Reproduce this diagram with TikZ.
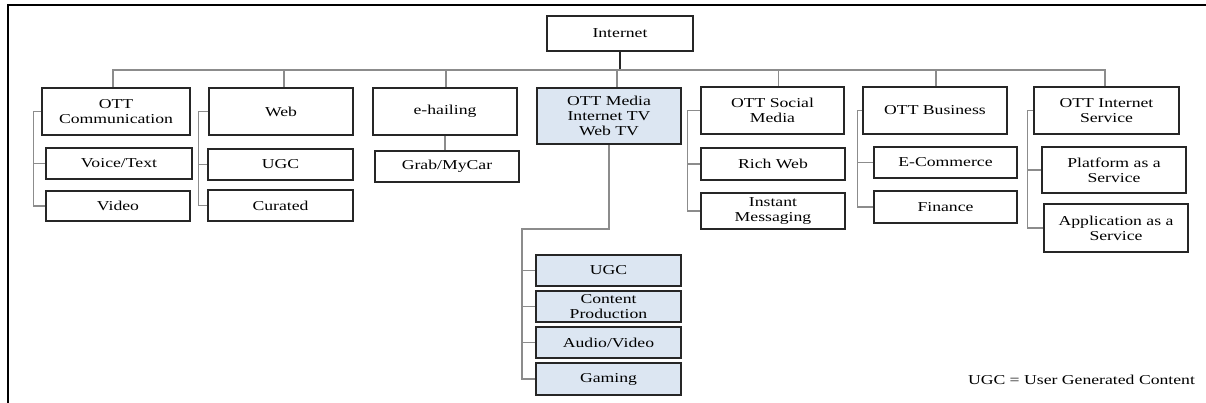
\documentclass[tikz,border=0pt]{standalone}
\usepackage{fontspec}
\setmainfont{Liberation Serif}[FakeStretch=1.3]
\usepackage{tikz}
\definecolor{mediablue}{HTML}{DCE6F2}
\definecolor{linkgray}{HTML}{8C8C8C}
\newcommand{\catfont}{\fontsize{10.2}{11.25}\selectfont}
\newcommand{\catnode}[6] {\node at (#1,#2) (#3) [catbox, minimum width=#4*0.75pt, minimum height=#5*0.75pt] {#6};}
\newcommand{\medianode}[6] {\node at (#1,#2) (#3) [catbox, fill=mediablue, minimum width=#4*0.75pt, minimum height=#5*0.75pt] {#6};}
\newcommand{\catbracket}[3] {\draw [link] (#1.west) -- ++(-#2,0) coordinate (#1rail) |- (#3.west);}

\begin{document}
\begin{tikzpicture}[x=0.75pt, y=-0.75pt,
  catbox/.style={draw=black!85, line width=1.2pt, align=center, font=\catfont, inner sep=1pt},
  link/.style={draw=linkgray, line width=0.8pt}]

\useasboundingbox (0,0) rectangle (1206,403);
\draw [line width=1.5pt] (8,403) -- (8,5) -- (1206,5);

\catnode {620}{33.5}{internet}{146}{35}{Internet};

\catnode {116}{111.5}{comm}{148}{47}{OTT\\Communication};
\catnode {119}{163.5}{voice}{146}{31}{Voice/Text};
\catnode {118}{206}{video}{144}{30}{Video};

\catnode {281}{111.5}{web}{144}{47}{Web};
\catnode {280.5}{164.5}{ugcweb}{145}{31}{UGC};
\catnode {280.5}{205.5}{curated}{145}{31}{Curated};

\catnode {445}{111.5}{ehail}{144}{47}{e-hailing};
\catnode {447}{166.5}{grab}{144}{31}{Grab/MyCar};

\medianode {609}{116}{media}{144}{56}{OTT Media\\Internet TV\\Web TV};
\medianode {608.5}{270.5}{ugcmedia}{145}{31}{UGC};
\medianode {608.5}{306.5}{content}{145}{31}{Content\\Production};
\medianode {608.5}{342.5}{audio}{145}{31}{Audio/Video};
\medianode {608.5}{379}{gaming}{145}{32}{Gaming};

\catnode {772.5}{110.5}{social}{143}{47}{OTT Social\\Media};
\catnode {773}{164}{richweb}{144}{32}{Rich Web};
\catnode {773}{211}{instant}{144}{36}{Instant\\Messaging};

\catnode {935}{110.5}{business}{144}{47}{OTT Business};
\catnode {945.5}{162.5}{ecommerce}{143}{31}{E-Commerce};
\catnode {945.5}{207}{finance}{143}{32}{Finance};

\catnode {1106.5}{110.5}{service}{145}{47}{OTT Internet\\Service};
\catnode {1114}{170}{paas}{144}{46}{Platform as a\\Service};
\catnode {1116}{228}{aaas}{144}{48}{Application as a\\Service};

\node at (1081.5,380) (legend) [font=\catfont] {UGC = User Generated Content};

\coordinate (bus) at (620,70);
\draw [line width=1.2pt, black!85] (internet.south) -- (bus);
\foreach \top/\dx in {comm/-3,web/3,ehail/1,media/8,social/6,business/1,service/-1.5}
  \draw [link] (bus) -| ([xshift=\dx*0.75pt]\top.north);

\catbracket {comm}{8}{video};
\draw [link] (commrail |- voice.west) -- (voice.west);

\catbracket {web}{10}{curated};
\draw [link] (webrail |- ugcweb.west) -- (ugcweb.west);

\draw [link] (ehail.south) -- (ehail.south |- grab.north);

\coordinate (mediarail) at (522,229);
\draw [link] (media.south) |- (mediarail) |- (gaming.west);
\foreach \sub in {ugcmedia,content,audio}
  \draw [link] (mediarail |- \sub.west) -- (\sub.west);

\catbracket {social}{13}{instant};
\draw [link] (socialrail |- richweb.west) -- (richweb.west);

\catbracket {business}{5}{finance};
\draw [link] (businessrail |- ecommerce.west) -- (ecommerce.west);

\catbracket {service}{6}{aaas};
\draw [link] (servicerail |- paas.west) -- (paas.west);

\end{tikzpicture}
\end{document}
